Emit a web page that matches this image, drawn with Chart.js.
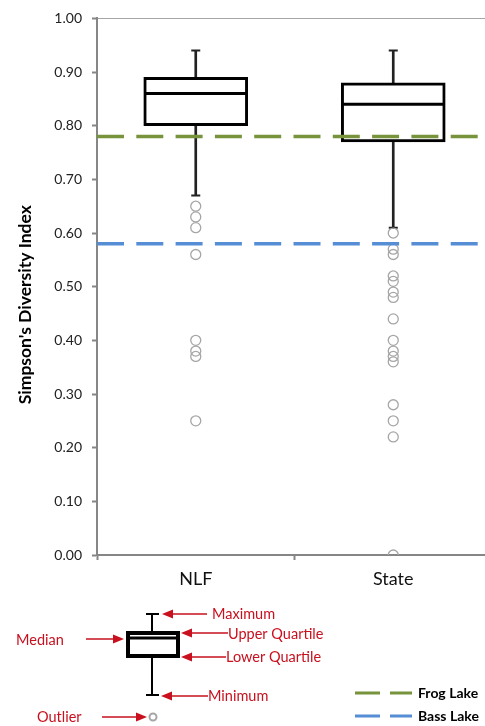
<!DOCTYPE html>
<html><head><meta charset="utf-8">
<script src="https://cdn.jsdelivr.net/npm/chart.js@4.4.1/dist/chart.umd.min.js"></script>
<style>html,body{margin:0;padding:0;overflow:hidden;background:#fff;width:485px;height:726px}canvas{display:block}</style>
</head><body>
<canvas id="c" width="500" height="726"></canvas>
<script>
// ---- data ----
const categories = ['NLF', 'State'];
const whiskerMax = [0.94, 0.94];
const upperQuartile = [0.89, 0.88];
const medianValues = [0.86, 0.84];
const lowerQuartile = [0.80, 0.77];
const whiskerMin = [0.67, 0.61];
const outliersNLF = [0.65, 0.63, 0.61, 0.56, 0.40, 0.38, 0.37, 0.25];
const outliersState = [0.60, 0.57, 0.56, 0.52, 0.51, 0.49, 0.48, 0.44, 0.40, 0.38, 0.37, 0.36, 0.28, 0.25, 0.22, 0.00];
const frogLake = 0.78;
const bassLake = 0.58;
const yTicks = [0.00, 0.10, 0.20, 0.30, 0.40, 0.50, 0.60, 0.70, 0.80, 0.90, 1.00];
const xTicks = [-0.5, 0, 0.5, 1, 1.5];
const yTitle = "Simpson's Diversity Index";
const refNames = ['Frog Lake', 'Bass Lake'];
const keyLabels = ['Maximum', 'Upper Quartile', 'Median', 'Lower Quartile', 'Minimum', 'Outlier'];

// ---- styles ----
const GREEN = '#77933C', BLUE = '#558ED5', AXIS = '#868686', RED = '#C8101E', OUT = '#A6A6A6';
const CLEAR = 'rgba(0,0,0,0)';

const outlierPoints = [];
outliersNLF.forEach(v => outlierPoints.push({x: 0, y: v}));
outliersState.forEach(v => outlierPoints.push({x: 1, y: v}));

const refLine = (val, color) => ({
  type: 'line',
  data: [{x: xTicks[0], y: val}, {x: xTicks[xTicks.length - 1], y: val}],
  borderColor: color, borderWidth: 3.5, borderDash: [27, 12.3], pointRadius: 0, fill: false, order: 0
});

const yTitlePlugin = {
  id: 'ytitle',
  afterDraw(chart) {
    const ctx = chart.ctx, a = chart.chartArea;
    ctx.save();
    ctx.translate(25, (a.top + a.bottom) / 2 + 18);
    ctx.rotate(-Math.PI / 2);
    ctx.font = 'bold 17.5px Lato';
    ctx.textAlign = 'center';
    ctx.textBaseline = 'middle';
    ctx.fillStyle = '#000';
    ctx.fillText(yTitle, 0, 0);
    ctx.restore();
  }
};

function arrow(ctx, x1, y, x2) {
  const dir = Math.sign(x2 - x1), hl = 11, hw = 4.5;
  ctx.strokeStyle = RED; ctx.fillStyle = RED; ctx.lineWidth = 1.5;
  ctx.beginPath(); ctx.moveTo(x1, y); ctx.lineTo(x2 - dir * hl, y); ctx.stroke();
  ctx.beginPath(); ctx.moveTo(x2, y); ctx.lineTo(x2 - dir * hl, y - hw); ctx.lineTo(x2 - dir * hl, y + hw); ctx.closePath(); ctx.fill();
}

const keyPlugin = {
  id: 'key',
  afterDraw(chart) {
    const ctx = chart.ctx;
    ctx.save();
    ctx.strokeStyle = '#000';
    ctx.lineWidth = 2;
    ctx.beginPath();
    ctx.moveTo(152, 614); ctx.lineTo(152, 631);
    ctx.moveTo(146, 614); ctx.lineTo(159, 614);
    ctx.moveTo(152, 658); ctx.lineTo(152, 695);
    ctx.moveTo(146, 695); ctx.lineTo(159, 695);
    ctx.stroke();
    ctx.lineWidth = 4;
    ctx.strokeRect(128, 633, 50, 23);
    ctx.lineWidth = 3;
    ctx.beginPath(); ctx.moveTo(128, 638); ctx.lineTo(178, 638); ctx.stroke();
    ctx.strokeStyle = OUT; ctx.lineWidth = 2;
    ctx.beginPath(); ctx.arc(153, 717, 3.5, 0, Math.PI * 2); ctx.stroke();
    arrow(ctx, 207, 614, 162);
    arrow(ctx, 228, 633, 181);
    arrow(ctx, 226, 657, 181);
    arrow(ctx, 208, 696, 161);
    arrow(ctx, 86, 639, 124);
    arrow(ctx, 102, 717, 147);
    ctx.font = '14.5px Lato';
    ctx.fillStyle = RED;
    ctx.textBaseline = 'middle';
    ctx.textAlign = 'left';
    ctx.fillText(keyLabels[0], 212, 614);
    ctx.fillText(keyLabels[1], 228, 634);
    ctx.fillText(keyLabels[2], 16, 640);
    ctx.fillText(keyLabels[3], 226, 657);
    ctx.fillText(keyLabels[4], 208, 696);
    ctx.fillText(keyLabels[5], 37, 717);
    [[GREEN, 693], [BLUE, 716]].forEach(([c, y], i) => {
      ctx.strokeStyle = c; ctx.lineWidth = 3;
      ctx.beginPath(); ctx.moveTo(355, y); ctx.lineTo(380, y); ctx.moveTo(390, y); ctx.lineTo(412, y); ctx.stroke();
      ctx.font = 'bold 14px Lato'; ctx.fillStyle = '#000';
      ctx.fillText(refNames[i], 418, y);
    });
    ctx.restore();
  }
};

new Chart(document.getElementById('c'), {
  type: 'bar',
  data: {
    datasets: [
      refLine(frogLake, GREEN),
      refLine(bassLake, BLUE),
      {
        type: 'scatter', data: categories.map((c, i) => ({x: i, y: medianValues[i]})),
        pointStyle: 'line', pointRadius: 50.5, pointBorderWidth: 3, borderColor: '#000', order: 1
      },
      {
        type: 'scatter', data: outlierPoints,
        pointStyle: 'circle', pointRadius: 5, pointBorderWidth: 1.3, borderColor: OUT, backgroundColor: CLEAR, order: 1
      },
      {
        type: 'bar', data: categories.map((c, i) => ({x: i, y: [lowerQuartile[i], upperQuartile[i]]})),
        backgroundColor: '#fff', borderColor: '#000', borderWidth: 3, borderSkipped: false,
        barThickness: 104, grouped: false, order: 2
      },
      {
        type: 'scatter',
        data: categories.map((c, i) => ({x: i, y: whiskerMax[i]})).concat(categories.map((c, i) => ({x: i, y: whiskerMin[i]}))),
        pointStyle: 'line', pointRadius: 4.5, pointBorderWidth: 2, borderColor: '#222', order: 3
      },
      {
        type: 'bar', data: categories.map((c, i) => ({x: i, y: [upperQuartile[i], whiskerMax[i]]})),
        backgroundColor: '#222', borderWidth: 0, barThickness: 2, grouped: false, order: 4
      },
      {
        type: 'bar', data: categories.map((c, i) => ({x: i, y: [whiskerMin[i], lowerQuartile[i]]})),
        backgroundColor: '#222', borderWidth: 0, barThickness: 2, grouped: false, order: 4
      }
    ]
  },
  options: {
    responsive: false, animation: false, devicePixelRatio: 1,
    layout: {autoPadding: false, padding: {top: 17, left: 0, right: 2, bottom: 0}},
    plugins: {legend: {display: false}, tooltip: {enabled: false}},
    scales: {
      x: {
        type: 'linear', offset: false, min: xTicks[0], max: xTicks[xTicks.length - 1],
        afterBuildTicks(s) { s.ticks = xTicks.map(v => ({value: v})); },
        grid: {
          offset: false, drawOnChartArea: false, tickLength: 5, tickWidth: 2, color: AXIS,
          tickColor: c => (c.tick && Number.isInteger(c.tick.value) ? CLEAR : AXIS)
        },
        border: {color: AXIS, width: 2},
        ticks: {
          font: {family: 'Lato', size: 18}, color: '#111', padding: 8, autoSkip: false, maxRotation: 0,
          callback: v => (Number.isInteger(v) ? categories[v] : '')
        },
        afterFit(s) { s.height = 171; }
      },
      y: {
        type: 'linear', min: 0, max: 1,
        afterBuildTicks(s) { s.ticks = yTicks.map(v => ({value: v})); },
        grid: {
          drawOnChartArea: true, tickLength: 5, tickColor: AXIS, tickWidth: 2, lineWidth: 1,
          color: c => (c.tick && c.tick.value === 1 ? '#A6A6A6' : CLEAR)
        },
        border: {color: AXIS, width: 2},
        ticks: {font: {family: 'Lato', size: 14}, color: '#222', padding: 10, callback: v => Number(v).toFixed(2)},
        afterFit(s) { s.width = 97; }
      }
    }
  },
  plugins: [yTitlePlugin, keyPlugin]
});
</script>
</body></html>
